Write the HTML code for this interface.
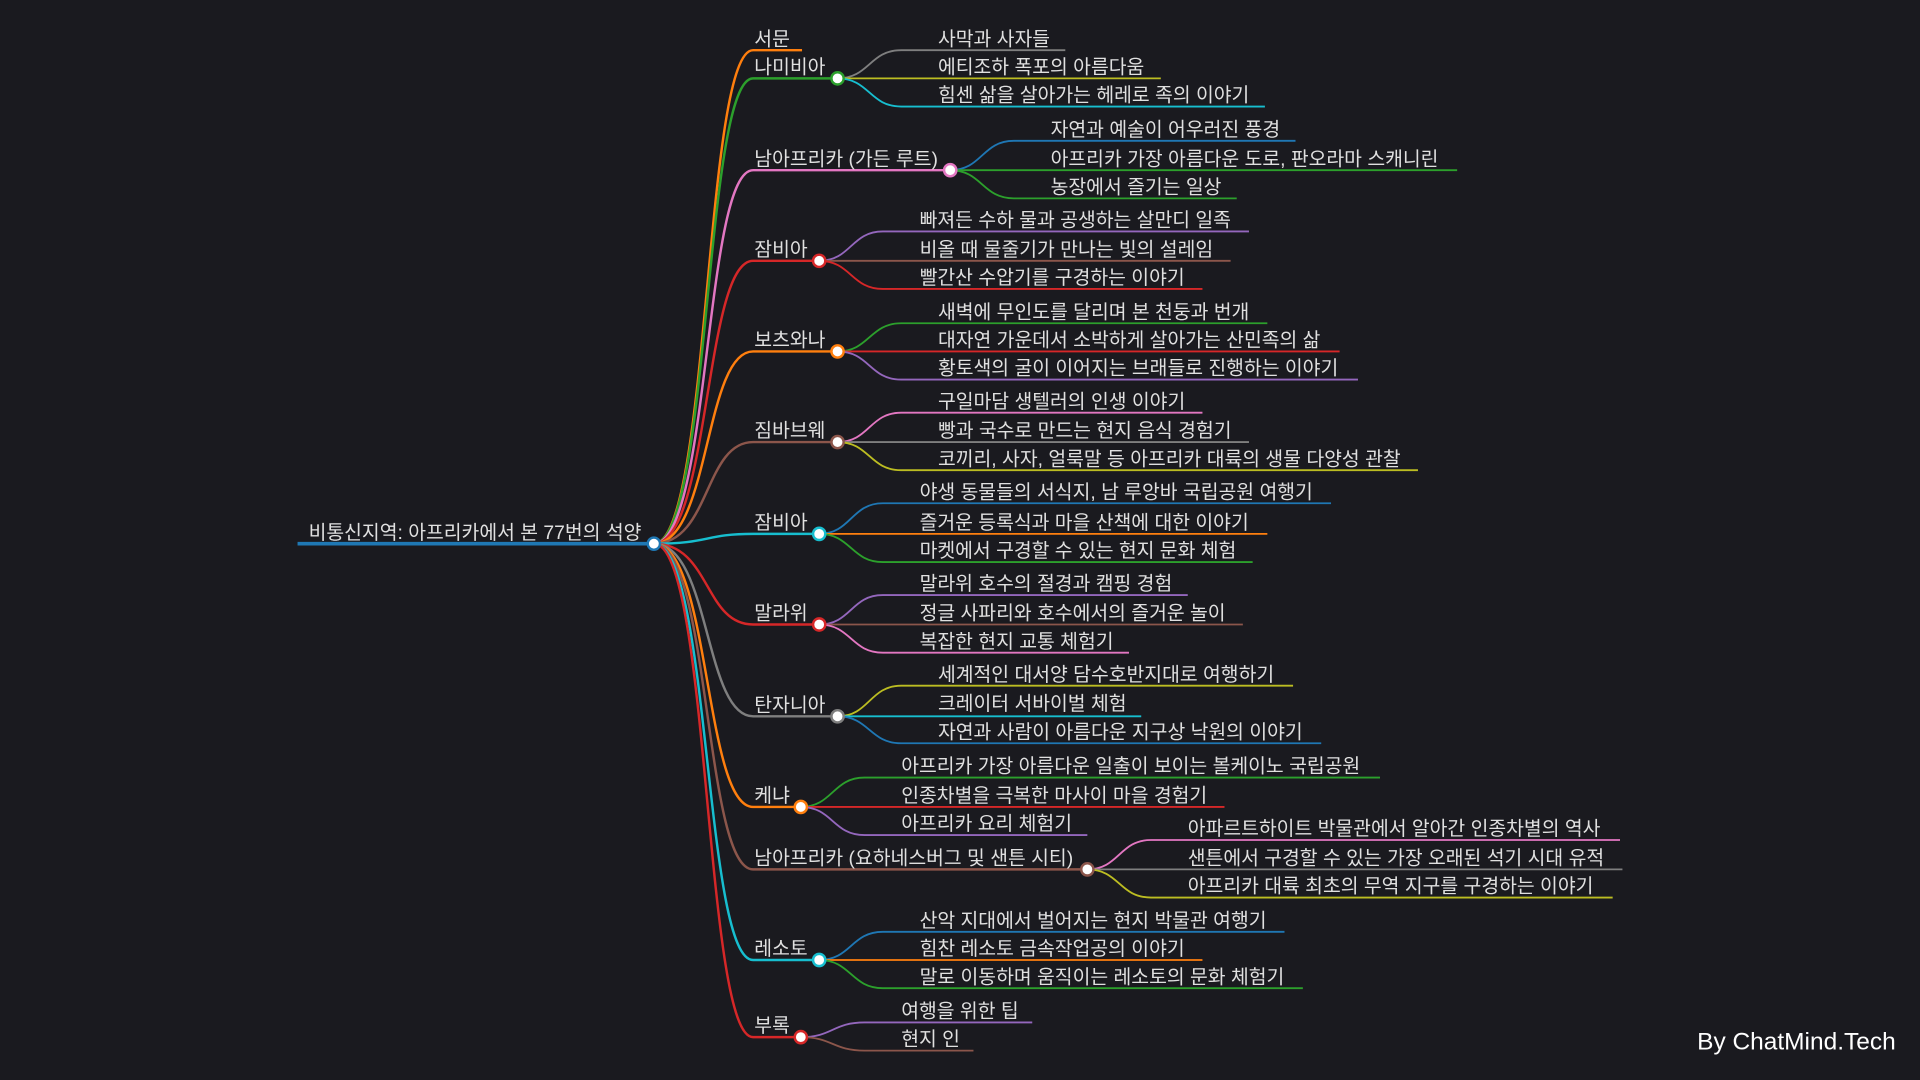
<!DOCTYPE html>
<html><head><meta charset="utf-8"><style>
html,body{margin:0;padding:0;background:#1a1a1f;}
svg{display:block}
text{font-family:"Liberation Sans","Noto Sans CJK KR",sans-serif;font-size:15.8px;fill:#e0e0e0}
path{fill:none}
</style></head><body>
<svg width="1920" height="1080" viewBox="0 0 1568 882" preserveAspectRatio="none" xmlns="http://www.w3.org/2000/svg">
<rect width="1568" height="882" fill="#1a1a1f"/>
<g stroke-width="2">
<path d="M534,444 C580,444 575,41 615,41 H655" stroke="#ff7f0e"/>
<path d="M534,444 C580,444 575,64 615,64 H684" stroke="#2ca02c"/>
<path d="M534,444 C580,444 575,139 615,139 H776" stroke="#e377c2"/>
<path d="M534,444 C580,444 575,213 615,213 H669" stroke="#d62728"/>
<path d="M534,444 C580,444 575,287 615,287 H684" stroke="#ff7f0e"/>
<path d="M534,444 C580,444 575,361 615,361 H684" stroke="#8c564b"/>
<path d="M534,444 C580,444 575,436 615,436 H669" stroke="#17becf"/>
<path d="M534,444 C580,444 575,510 615,510 H669" stroke="#d62728"/>
<path d="M534,444 C580,444 575,585 615,585 H684" stroke="#7f7f7f"/>
<path d="M534,444 C580,444 575,659 615,659 H654" stroke="#ff7f0e"/>
<path d="M534,444 C580,444 575,710 615,710 H888" stroke="#8c564b"/>
<path d="M534,444 C580,444 575,784 615,784 H669" stroke="#17becf"/>
<path d="M534,444 C580,444 575,847 615,847 H654" stroke="#d62728"/>
<path d="M243,444 H534" stroke="#1f78b4" stroke-width="3"/>
</g>
<g stroke-width="1.5">
<path d="M684,64 C710,64 710,41 736,41 H870" stroke="#7f7f7f"/>
<path d="M684,64 H948" stroke="#bcbd22"/>
<path d="M684,64 C710,64 710,87 736,87 H1033" stroke="#17becf"/>
<path d="M776,139 C802,139 802,115 828,115 H1058" stroke="#1f77b4"/>
<path d="M776,139 H1190" stroke="#2ca02c"/>
<path d="M776,139 C802,139 802,162 828,162 H1010" stroke="#2ca02c"/>
<path d="M669,213 C695,213 695,189 721,189 H1020" stroke="#9467bd"/>
<path d="M669,213 H1005" stroke="#8c564b"/>
<path d="M669,213 C695,213 695,236 721,236 H982" stroke="#d62728"/>
<path d="M684,287 C710,287 710,264 736,264 H1035" stroke="#2ca02c"/>
<path d="M684,287 H1094" stroke="#d62728"/>
<path d="M684,287 C710,287 710,310 736,310 H1109" stroke="#9467bd"/>
<path d="M684,361 C710,361 710,337 736,337 H982" stroke="#e377c2"/>
<path d="M684,361 H1020" stroke="#7f7f7f"/>
<path d="M684,361 C710,361 710,384 736,384 H1158" stroke="#bcbd22"/>
<path d="M669,436 C695,436 695,411 721,411 H1087" stroke="#1f77b4"/>
<path d="M669,436 H1035" stroke="#ff7f0e"/>
<path d="M669,436 C695,436 695,459 721,459 H1023" stroke="#2ca02c"/>
<path d="M669,510 C695,510 695,486 721,486 H970" stroke="#9467bd"/>
<path d="M669,510 H1015" stroke="#8c564b"/>
<path d="M669,510 C695,510 695,533 721,533 H922" stroke="#e377c2"/>
<path d="M684,585 C710,585 710,560 736,560 H1056" stroke="#bcbd22"/>
<path d="M684,585 H932" stroke="#17becf"/>
<path d="M684,585 C710,585 710,607 736,607 H1079" stroke="#1f77b4"/>
<path d="M654,659 C680,659 680,635 706,635 H1127" stroke="#2ca02c"/>
<path d="M654,659 H1000" stroke="#d62728"/>
<path d="M654,659 C680,659 680,682 706,682 H888" stroke="#9467bd"/>
<path d="M888,710 C914,710 914,686 940,686 H1323" stroke="#e377c2"/>
<path d="M888,710 H1325" stroke="#7f7f7f"/>
<path d="M888,710 C914,710 914,733 940,733 H1317" stroke="#bcbd22"/>
<path d="M669,784 C695,784 695,761 721,761 H1049" stroke="#1f77b4"/>
<path d="M669,784 H982" stroke="#ff7f0e"/>
<path d="M669,784 C695,784 695,807 721,807 H1064" stroke="#2ca02c"/>
<path d="M654,847 C680,847 680,835 706,835 H843" stroke="#9467bd"/>
<path d="M654,847 C680,847 680,858 706,858 H795" stroke="#8c564b"/>
</g>
<g fill="#fff" stroke-width="2">
<circle cx="534" cy="444" r="5" stroke="#1f78b4"/>
<circle cx="684" cy="64" r="5" stroke="#2ca02c"/>
<circle cx="776" cy="139" r="5" stroke="#e377c2"/>
<circle cx="669" cy="213" r="5" stroke="#d62728"/>
<circle cx="684" cy="287" r="5" stroke="#ff7f0e"/>
<circle cx="684" cy="361" r="5" stroke="#8c564b"/>
<circle cx="669" cy="436" r="5" stroke="#17becf"/>
<circle cx="669" cy="510" r="5" stroke="#d62728"/>
<circle cx="684" cy="585" r="5" stroke="#7f7f7f"/>
<circle cx="654" cy="659" r="5" stroke="#ff7f0e"/>
<circle cx="888" cy="710" r="5" stroke="#8c564b"/>
<circle cx="669" cy="784" r="5" stroke="#17becf"/>
<circle cx="654" cy="847" r="5" stroke="#d62728"/>
</g>
<text x="252" y="440">비통신지역: 아프리카에서 본 77번의 석양</text>
<text x="616" y="37">서문</text>
<text x="616" y="60">나미비아</text>
<text x="616" y="135">남아프리카 (가든 루트)</text>
<text x="616" y="209">잠비아</text>
<text x="616" y="283">보츠와나</text>
<text x="616" y="357">짐바브웨</text>
<text x="616" y="432">잠비아</text>
<text x="616" y="506">말라위</text>
<text x="616" y="581">탄자니아</text>
<text x="616" y="655">케냐</text>
<text x="616" y="706">남아프리카 (요하네스버그 및 샌튼 시티)</text>
<text x="616" y="780">레소토</text>
<text x="616" y="843">부록</text>
<text x="766" y="37">사막과 사자들</text>
<text x="766" y="60">에티조하 폭포의 아름다움</text>
<text x="766" y="83">힘센 삶을 살아가는 헤레로 족의 이야기</text>
<text x="858" y="111">자연과 예술이 어우러진 풍경</text>
<text x="858" y="135">아프리카 가장 아름다운 도로, 판오라마 스캐니린</text>
<text x="858" y="158">농장에서 즐기는 일상</text>
<text x="751" y="185">빠져든 수하 물과 공생하는 살만디 일족</text>
<text x="751" y="209">비올 때 물줄기가 만나는 빛의 설레임</text>
<text x="751" y="232">빨간산 수압기를 구경하는 이야기</text>
<text x="766" y="260">새벽에 무인도를 달리며 본 천둥과 번개</text>
<text x="766" y="283">대자연 가운데서 소박하게 살아가는 산민족의 삶</text>
<text x="766" y="306">황토색의 굴이 이어지는 브래들로 진행하는 이야기</text>
<text x="766" y="333">구일마담 생텔러의 인생 이야기</text>
<text x="766" y="357">빵과 국수로 만드는 현지 음식 경험기</text>
<text x="766" y="380">코끼리, 사자, 얼룩말 등 아프리카 대륙의 생물 다양성 관찰</text>
<text x="751" y="407">야생 동물들의 서식지, 남 루앙바 국립공원 여행기</text>
<text x="751" y="432">즐거운 등록식과 마을 산책에 대한 이야기</text>
<text x="751" y="455">마켓에서 구경할 수 있는 현지 문화 체험</text>
<text x="751" y="482">말라위 호수의 절경과 캠핑 경험</text>
<text x="751" y="506">정글 사파리와 호수에서의 즐거운 놀이</text>
<text x="751" y="529">복잡한 현지 교통 체험기</text>
<text x="766" y="556">세계적인 대서양 담수호반지대로 여행하기</text>
<text x="766" y="580">크레이터 서바이벌 체험</text>
<text x="766" y="603">자연과 사람이 아름다운 지구상 낙원의 이야기</text>
<text x="736" y="631">아프리카 가장 아름다운 일출이 보이는 볼케이노 국립공원</text>
<text x="736" y="655">인종차별을 극복한 마사이 마을 경험기</text>
<text x="736" y="678">아프리카 요리 체험기</text>
<text x="970" y="682">아파르트하이트 박물관에서 알아간 인종차별의 역사</text>
<text x="970" y="706">샌튼에서 구경할 수 있는 가장 오래된 석기 시대 유적</text>
<text x="970" y="729">아프리카 대륙 최초의 무역 지구를 구경하는 이야기</text>
<text x="751" y="757">산악 지대에서 벌어지는 현지 박물관 여행기</text>
<text x="751" y="780">힘찬 레소토 금속작업공의 이야기</text>
<text x="751" y="803">말로 이동하며 움직이는 레소토의 문화 체험기</text>
<text x="736" y="831">여행을 위한 팁</text>
<text x="736" y="854">현지 인</text>
<text x="1386" y="857" style="font-size:20px;fill:#fff">By ChatMind.Tech</text>
</svg>
</body></html>
